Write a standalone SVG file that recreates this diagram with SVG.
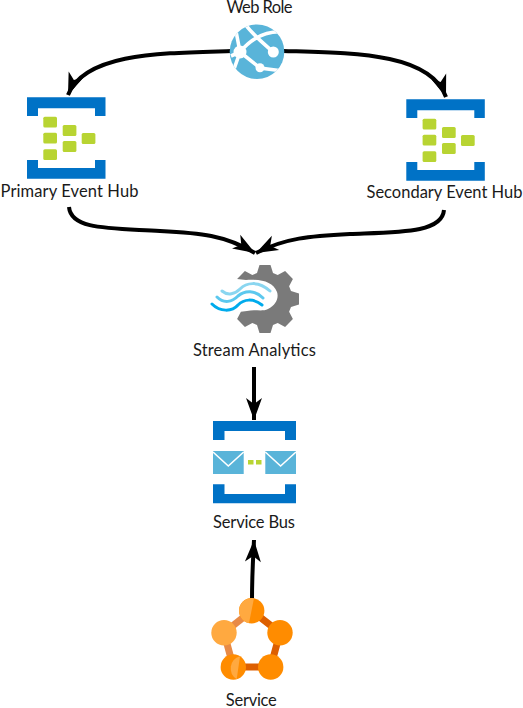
<svg xmlns="http://www.w3.org/2000/svg" width="523" height="708" viewBox="0 0 523 708">
<style>
text{font-family:"Lato","Open Sans",sans-serif;font-size:16.500px;fill:#1a1a1a;text-anchor:middle}
.c{fill:none;stroke:#000;stroke-width:4;marker-end:url(#a)}
.b{fill:#0072c6}
.g{fill:#b8d432}
.e{fill:#59b4d9}
.w{fill:none;stroke:#fff;stroke-width:1.600}
.o1{fill:#ffa940}
.o2{fill:#ff8c00}
.wave{fill:none;stroke-width:3;stroke-linecap:round}
.spoke{fill:none;stroke:#fff;stroke-width:3.600}
</style>
<defs>
<clipPath id="globe"><circle cx="257" cy="51.700" r="27.300"/></clipPath>
<marker id="a" markerUnits="userSpaceOnUse" markerWidth="24" markerHeight="20" refX="22" refY="9" orient="auto" overflow="visible"><path d="M0 1L22 9L0 17L6 9Z" fill="#000"/></marker>
<g id="hub">
<path class="b" d="M0 0H78.500V18.700H68V11H11V18.700H0Z"/>
<path class="b" d="M0 81.400V62.700H11V70.700H68V62.700H78.500V81.400Z"/>
<rect class="g" x="16.300" y="19.500" width="13.700" height="10.800" rx="1.500"/>
<rect class="g" x="16.300" y="35.500" width="13.700" height="10.800" rx="1.500"/>
<rect class="g" x="16.300" y="52" width="13.700" height="10.800" rx="1.500"/>
<rect class="g" x="35.700" y="27.800" width="13.700" height="10.800" rx="1.500"/>
<rect class="g" x="35.700" y="43.800" width="13.700" height="10.800" rx="1.500"/>
<rect class="g" x="54.700" y="35.800" width="13.700" height="10.800" rx="1.500"/>
</g>
</defs>
<g id="connectors">
<path class="c" d="M232 51C165 53 85 52 68 95"/>
<path class="c" d="M283 51C350 53 430 52 446 97"/>
<path class="c" d="M69 207C71 230 110 228 160 231C200 233 225 235 255 253"/>
<path class="c" d="M444 210C442 233 400 232 350 234C310 236 285 238 256 253"/>
<path class="c" d="M254 367V420"/>
<path class="c" d="M252 600C252 575 253 560 254 540"/>
</g>
<g id="web-role">
<circle cx="257" cy="51.700" r="27.300" fill="#59b4d9"/>
<g clip-path="url(#globe)">
<path class="spoke" d="M235 26L240 52L231 56M240 52L233 72M245 24C252 34 262 42 273 52M240 52C250 40 265 30 285 32M240 52L260 68L283 71"/>
</g>
<circle cx="240" cy="52" r="6.500" fill="#fff"/>
<circle cx="273.300" cy="52" r="5.500" fill="#fff"/>
<circle cx="260" cy="67.700" r="4.500" fill="#fff"/>
<text x="259.500" y="13" textLength="66">Web Role</text>
</g>
<g id="primary-event-hub">
<use href="#hub" x="27" y="97.300"/>
<text x="69.500" y="196.700" textLength="138">Primary Event Hub</text>
</g>
<g id="secondary-event-hub">
<use href="#hub" x="406.300" y="99.300"/>
<text x="444.500" y="198.300" textLength="156">Secondary Event Hub</text>
</g>
<g id="stream-analytics">
<path fill="#7a7a7a" d="M257 273L259.500 265H270.500L273 273L277.700 275L285.100 271.100L292.900 278.900L289.100 286.300L291 291L299 293.500V304.500L291 307L289.100 311.700L292.900 319.100L285.100 326.900L277.700 323.100L273 325L270.500 333H259.500L257 325L252.300 323.100L244.900 326.900L237.100 319.100L240.900 311.700L247 311C255 309 262 312 268 309C276 305 279 298 277 292C273 282 262 279 246 280L237.100 278.900L244.900 271.100L252.300 275Z"/>
<path class="wave" stroke="#8ad6f0" d="M222 291C228 296 235 294 240 289C246 283 258 280 270 291"/>
<path class="wave" stroke="#5cc8ee" d="M217 297C224 304 232 302 238 296C245 290 255 290 263 298"/>
<path class="wave" stroke="#00abec" d="M212 304C220 312 232 312 238 305C244 299 253 298 262 305"/>
<text x="254.400" y="355.700" textLength="123">Stream Analytics</text>
</g>
<g id="service-bus">
<path class="b" d="M213 421H296V440H285V431H224.500V440H213Z"/>
<path class="b" d="M213 503.300V484.300H224.500V494H285V484.300H296V503.300Z"/>
<rect class="e" x="213" y="451" width="30.700" height="23"/>
<rect class="e" x="265.300" y="451" width="30.700" height="23"/>
<path class="w" d="M213 452L228.300 466L243.700 452M265.300 452L280.600 466L296 452"/>
<rect class="g" x="248" y="460" width="5.500" height="4.500"/>
<rect class="g" x="256" y="460" width="5.500" height="4.500"/>
<text x="254" y="528.300" textLength="82">Service Bus</text>
</g>
<g id="service">
<path d="M251.700 610.700L224 632.700" stroke="#e88a45" stroke-width="7"/>
<path d="M224 632.700L233.300 667" stroke="#e88a45" stroke-width="7"/>
<path d="M251.700 610.700L280 632.700L270.700 667H233.300" fill="none" stroke="#dd5f00" stroke-width="7"/>
<circle class="o2" cx="251.700" cy="610.700" r="12.700"/>
<path class="o1" d="M254 598.200A12.700 12.700 0 0 0 249 623.100Z"/>
<circle class="o1" cx="224" cy="632.700" r="12.700"/>
<circle class="o2" cx="280" cy="632.700" r="12.700"/>
<circle class="o2" cx="233.300" cy="667" r="12.700"/>
<path class="o1" d="M240 656.200A12.700 12.700 0 0 0 236.700 679.200Z"/>
<circle class="o2" cx="270.700" cy="667" r="12.700"/>
<text x="251.300" y="706" textLength="51">Service</text>
</g>
</svg>
